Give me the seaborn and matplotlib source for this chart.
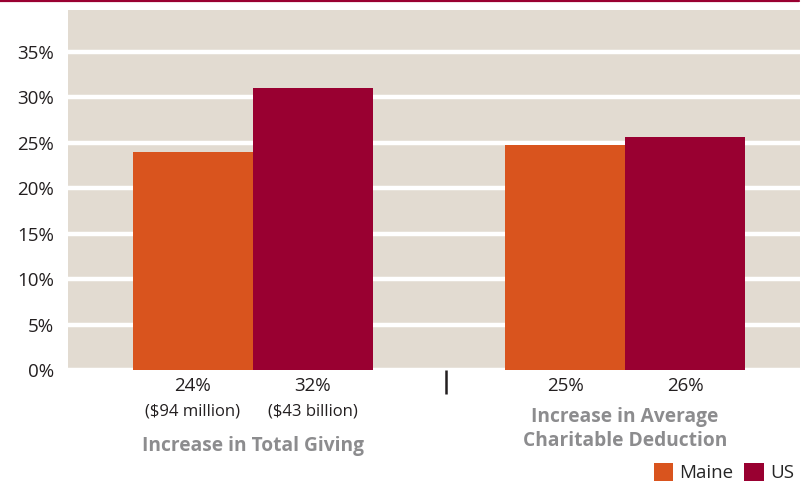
import matplotlib
matplotlib.use("Agg")
import matplotlib.pyplot as plt
import seaborn as sns
import pandas as pd
from matplotlib.lines import Line2D
from matplotlib.patches import Patch
from matplotlib.transforms import blended_transform_factory

categories = ["Increase in Total Giving", "Increase in Average\nCharitable Deduction"]
series = ["Maine", "US"]
maine_values = [24.0, 24.7]
us_values = [31.0, 25.6]
maine_labels = ["24%", "25%"]
us_labels = ["32%", "26%"]
maine_sub = ["($94 million)", ""]
us_sub = ["($43 billion)", ""]
yticks = [0, 5, 10, 15, 20, 25, 30, 35]
ytick_labels = ["0%", "5%", "10%", "15%", "20%", "25%", "30%", "35%"]

colors = {"Maine": "#D9541E", "US": "#990031"}
bg = "#E2DBD1"
gray = "#8C8C8E"

df = pd.DataFrame({
    "category": categories * 2,
    "series": ["Maine"] * 2 + ["US"] * 2,
    "value": maine_values + us_values,
})

sns.set_theme(style="white")
plt.rcParams["font.family"] = ["Open Sans", "DejaVu Sans"]

fig = plt.figure(figsize=(8.01, 4.86), dpi=100)
ax = fig.add_axes([68 / 801, 1 - 370 / 486, (800 - 68) / 801, 360 / 486])
ax.set_facecolor(bg)

sns.barplot(data=df, x="category", y="value", hue="series", order=categories,
            hue_order=series, palette=colors, width=0.645, gap=0,
            saturation=1, ax=ax, legend=False, edgecolor="none", linewidth=0)
for p in ax.patches:
    p.set_zorder(3)

ax.set_ylim(0, 39.6)
ax.set_xlim(-0.497, 1.47)
ax.set_yticks(yticks)
ax.set_yticklabels(ytick_labels, fontsize=13.5, color="#231F20")
ax.grid(axis="y", color="white", linewidth=3.2, zorder=1)
ax.set_axisbelow(True)
ax.tick_params(axis="y", length=0, pad=10)
ax.set_xticks([])
ax.set_xticks([0.52], minor=True)
ax.tick_params(axis="x", which="minor", bottom=True, length=17, width=1.8,
               color="#231F20", direction="out", labelbottom=False)
ax.set_xlabel("")
ax.set_ylabel("")
for s in ax.spines.values():
    s.set_visible(False)

bars = [p for p in ax.patches if p.get_width() > 0]
bars_sorted = sorted(bars, key=lambda p: p.get_x())
labels = [maine_labels[0], us_labels[0], maine_labels[1], us_labels[1]]
subs = [maine_sub[0], us_sub[0], maine_sub[1], us_sub[1]]
tr = blended_transform_factory(ax.transData, fig.transFigure)
for p, lab, sub in zip(bars_sorted, labels, subs):
    cx = p.get_x() + p.get_width() / 2
    ax.text(cx, 1 - 386 / 486, lab, transform=tr, ha="center", va="center",
            fontsize=13.5, color="#231F20")
    if sub:
        ax.text(cx, 1 - 411 / 486, sub, transform=tr, ha="center", va="center",
                fontsize=12, color="#231F20")

ax.text(0, 1 - 446 / 486, categories[0], transform=tr, ha="center", va="center",
        fontsize=13.8, fontweight="bold", color=gray)
ax.text(1, 1 - 429 / 486, categories[1], transform=tr, ha="center", va="center",
        fontsize=13.8, fontweight="bold", color=gray, linespacing=1.25)

fig.add_artist(Line2D([0, 0.997], [0.998, 0.998], transform=fig.transFigure,
                      color="#990031", linewidth=1.6))

handles = [Patch(facecolor=colors[s], edgecolor="none", label=s) for s in series]
fig.legend(handles=handles, loc="lower right", bbox_to_anchor=(1.005, -0.015),
           ncol=2, frameon=False, fontsize=13.5, handlelength=1.05, handleheight=1.1,
           handletextpad=0.3, columnspacing=0.6, borderaxespad=0.2)

fig.savefig("out.png", dpi=100, facecolor="white")
